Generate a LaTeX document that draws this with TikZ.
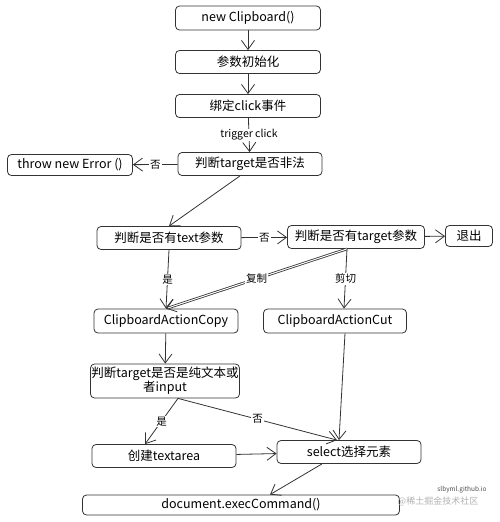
\documentclass[tikz,border=0pt]{standalone}
\usepackage{fontspec}
\setmainfont{Noto Sans CJK SC}
\usetikzlibrary{arrows.meta}

\tikzset{
  box/.style={draw=black!80, line width=0.8pt, rounded corners=4pt, align=center, inner sep=1pt,
              font=\fontsize{12.5}{14}\selectfont},
  flow/.style={draw=black!80, line width=0.8pt, -{Straight Barb[length=9pt,width=13pt]}},
  lbl/.style={fill=white, inner sep=1pt, font=\fontsize{10.5}{12}\selectfont}
}

\begin{document}
\begin{tikzpicture}[x=1pt,y=-1pt]
  \useasboundingbox (0,0) rectangle (500,522);

  % Main column of steps
  \node[box, minimum width=145pt, minimum height=24pt] (init)   at (248,18)  {new Clipboard()};
  \node[box, minimum width=145pt, minimum height=23pt] (param)  at (248,62)  {参数初始化};
  \node[box, minimum width=145pt, minimum height=23pt] (bind)   at (248,106) {绑定click事件};
  \node[box, minimum width=144pt, minimum height=23pt] (valid)  at (250,164) {判断target是否非法};
  \node[box, minimum width=125pt, minimum height=21pt] (throw)  at (70,165)  {throw new Error ()};

  % Checks on the options
  \node[box, minimum width=144pt, minimum height=23pt] (hastext)   at (169,238) {判断是否有text参数};
  \node[box, minimum width=137pt, minimum height=23pt] (hastarget) at (356,237) {判断是否有target参数};
  \node[box, minimum width=47pt,  minimum height=21pt] (quit)      at (469,236) {退出};

  % Actions
  \node[box, minimum width=144pt, minimum height=24pt] (copy)   at (166,321) {ClipboardActionCopy};
  \node[box, minimum width=143pt, minimum height=24pt] (cut)    at (335,321) {ClipboardActionCut};
  \node[box, minimum width=144pt, minimum height=34pt] (plain)  at (165,381) {判断target是否是纯文本或\\者input};
  \node[box, minimum width=144pt, minimum height=23pt] (area)   at (164,456) {创建textarea};
  \node[box, minimum width=144pt, minimum height=23pt] (select) at (349,452) {select选择元素};
  \node[box, minimum width=317pt, minimum height=20pt] (exec)   at (241,505) {document.execCommand()};

  % Watermark
  \node[font=\fontsize{6.5}{7}\selectfont, text=black!70, inner sep=0pt] (wm1) at (462,490) {slbyml.github.io};
  \node[font=\fontsize{9}{10}\selectfont, text=black!30, inner sep=0pt] (wm2) at (438,501) {@稀土掘金技术社区};

  % Connectors
  \draw[flow] (init) -- (param);
  \draw[flow] (param) -- (bind);
  \draw[flow] (bind) -- node[lbl] {trigger click} (valid);
  \draw[flow] (valid) -- node[lbl] {否} (throw);
  \draw[flow] ([xshift=-10pt]valid.south) -- (hastext.north);
  \draw[flow] (hastext) -- node[lbl] {否} (hastarget);
  \draw[flow] (hastarget) -- (quit);
  \draw[flow] (hastext.south) -- node[lbl] {是} (copy.north);
  \draw[flow, double, double distance=1pt]
       ([xshift=-9pt]hastarget.south) -- node[lbl, pos=0.5] {复制} (copy.north);
  \draw[flow] ([xshift=-9pt]hastarget.south) -- node[lbl] {剪切} ([xshift=9pt]cut.north);
  \draw[flow] (copy) -- (plain);
  \draw[flow] ([xshift=13pt]plain.south) -- node[lbl] {是} ([xshift=-19pt]area.north);
  \draw[flow] ([xshift=13pt]plain.south) -- node[lbl] {否} ([xshift=-12pt]select.north);
  \draw[flow] ([xshift=10pt]cut.south) -- ([xshift=-10pt]select.north);
  \draw[flow] (area) -- (select);
  \draw[flow] ([xshift=-27pt]select.south) -- ([xshift=29pt]exec.north);
\end{tikzpicture}
\end{document}
